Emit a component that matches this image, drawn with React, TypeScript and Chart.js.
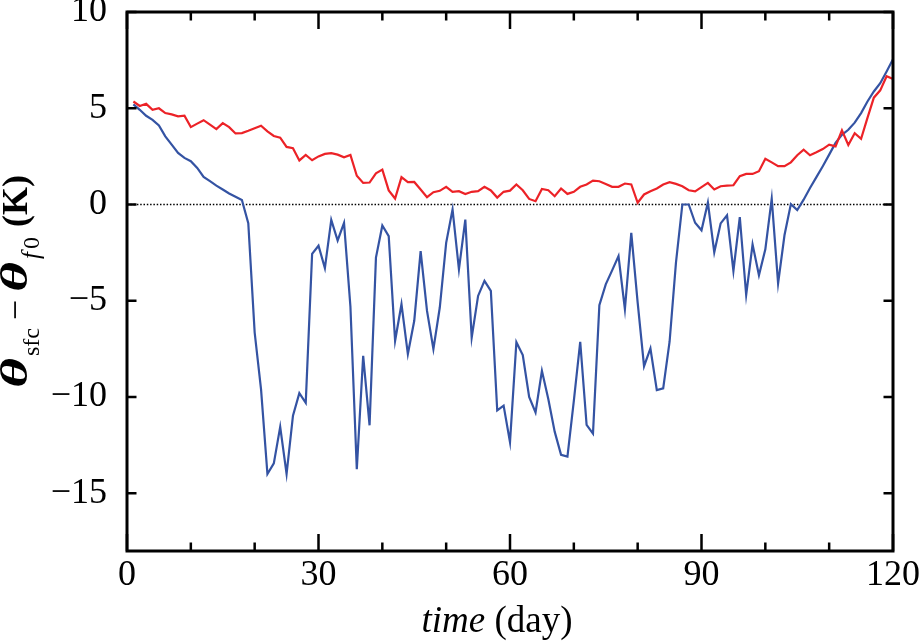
import React, { useEffect, useRef } from 'react';
import { Chart, registerables } from 'chart.js';

Chart.register(...registerables);

// ---- data ----
const days: number[] = Array.from({ length: 120 }, (_, i) => i + 1);

const redSeries: number[] = [
  5.35, 5.12, 5.23, 4.92, 5.0, 4.75, 4.68, 4.58, 4.61, 4.02,
  4.2, 4.38, 4.15, 3.92, 4.23, 4.02, 3.69, 3.71, 3.83, 3.96,
  4.09, 3.8, 3.56, 3.47, 2.99, 2.92, 2.29, 2.58, 2.3, 2.5,
  2.63, 2.67, 2.59, 2.45, 2.57, 1.49, 1.12, 1.14, 1.62, 1.81,
  0.73, 0.31, 1.42, 1.16, 1.17, 0.78, 0.38, 0.64, 0.71, 0.92,
  0.66, 0.69, 0.54, 0.66, 0.69, 0.92, 0.73, 0.36, 0.66, 0.72,
  1.04, 0.74, 0.29, 0.17, 0.81, 0.74, 0.43, 0.83, 0.55, 0.66,
  0.92, 1.04, 1.24, 1.21, 1.07, 0.92, 0.92, 1.09, 1.04, 0.09,
  0.52, 0.69, 0.83, 1.04, 1.16, 1.07, 0.95, 0.74, 0.68, 0.9,
  1.12, 0.78, 0.95, 0.98, 1.0, 1.47, 1.59, 1.59, 1.73, 2.38,
  2.19, 1.99, 1.99, 2.19, 2.56, 2.85, 2.56, 2.71, 2.88, 3.11,
  3.02, 3.85, 3.09, 3.7, 3.41, 4.5, 5.55, 5.93, 6.66, 6.52,
];

const blueSeries: number[] = [
  5.2, 4.92, 4.61, 4.4, 4.11, 3.54, 3.11, 2.68, 2.42, 2.25,
  1.9, 1.43, 1.21, 0.98, 0.78, 0.57, 0.4, 0.23, -0.97, -6.65,
  -9.6, -14.0, -13.45, -11.55, -14.0, -10.97, -9.8, -10.3, -2.56, -2.14,
  -3.3, -0.8, -1.87, -0.96, -5.3, -13.75, -7.86, -11.47, -2.76, -1.09,
  -1.64, -7.08, -5.18, -7.77, -6.04, -2.42, -5.53, -7.51, -5.35, -1.99,
  -0.26, -3.37, -0.78, -6.91, -4.75, -3.97, -4.49, -10.7, -10.45, -12.35,
  -7.15, -7.82, -10.0, -10.8, -8.64, -10.1, -11.8, -13.0, -13.1, -10.2,
  -7.13, -11.45, -11.9, -5.23, -4.15, -3.42, -2.68, -5.44, -1.47, -5.1,
  -8.4, -7.48, -9.64, -9.55, -7.13, -3.02, 0.0, 0.0, -0.95, -1.34,
  0.1, -2.48, -0.98, -0.56, -3.45, -0.65, -4.7, -2.07, -3.68, -2.33,
  0.3, -4.1, -1.6, 0.02, -0.29, 0.25, 0.86, 1.42, 1.99, 2.59,
  3.2, 3.62, 3.88, 4.25, 4.75, 5.35, 5.87, 6.3, 6.91, 7.55,
];

const referenceLine: number[] = [0, 0];
const referenceDays: number[] = [0, 120];

const xTickStep = 10;
const xLabelStep = 30;
const yTickStep = 5;
const xRange = [0, 120];
const yRange = [-18, 10];

const SERIF = '"Liberation Serif", "Times New Roman", Times, serif';

const fmt = (v: number) => (v < 0 ? '\u2212' + Math.abs(v) : String(v));

const frameTicks = {
  id: 'frameTicks',
  afterDatasetsDraw(chart: any) {
    const { ctx, chartArea: a, scales } = chart;
    const x = scales.x;
    const y = scales.y;
    ctx.save();
    ctx.strokeStyle = '#000';
    ctx.lineWidth = 2.5;
    ctx.beginPath();
    x.ticks.forEach((t: any) => {
      const px = x.getPixelForValue(t.value);
      const len = t.value % xLabelStep === 0 ? 17 : 8.5;
      ctx.moveTo(px, a.bottom);
      ctx.lineTo(px, a.bottom - len);
      ctx.moveTo(px, a.top);
      ctx.lineTo(px, a.top + len);
    });
    y.ticks.forEach((t: any) => {
      if (t.value % yTickStep !== 0) return;
      const py = y.getPixelForValue(t.value);
      ctx.moveTo(a.left, py);
      ctx.lineTo(a.left + 9.5, py);
      ctx.moveTo(a.right, py);
      ctx.lineTo(a.right - 9.5, py);
    });
    ctx.stroke();
    ctx.lineWidth = 3;
    ctx.strokeRect(a.left, a.top, a.right - a.left, a.bottom - a.top);
    ctx.restore();
  },
};

const titles = {
  id: 'titles',
  afterDraw(chart: any) {
    const { ctx, chartArea: a } = chart;
    ctx.save();
    ctx.fillStyle = '#000';
    ctx.textBaseline = 'alphabetic';
    ctx.textAlign = 'left';

    // x title
    const cx = (a.left + a.right) / 2 - 13;
    const by = a.bottom + 81;
    ctx.font = `italic 37px ${SERIF}`;
    const w1 = ctx.measureText('time').width;
    ctx.font = `37px ${SERIF}`;
    const w2 = ctx.measureText(' (day)').width;
    const sx = cx - (w1 + w2) / 2;
    ctx.font = `italic 37px ${SERIF}`;
    ctx.fillText('time', sx, by);
    ctx.font = `37px ${SERIF}`;
    ctx.fillText(' (day)', sx + w1, by);

    // y title (rotated)
    const cy = (a.top + a.bottom) / 2;
    ctx.translate(27, 0);
    ctx.rotate(-Math.PI / 2);
    const put = (text: string, font: string, u: number, v: number) => {
      ctx.font = font;
      ctx.fillText(text, u, v);
      return ctx.measureText(text).width;
    };
    const thetaFont = `italic bold 37px ${SERIF}`;
    const thetaW = 30;
    const putTheta = (u: number) => {
      ctx.font = thetaFont;
      const w = ctx.measureText('\u03B8').width;
      const k = thetaW / w;
      ctx.save();
      ctx.translate(u, 0);
      ctx.scale(k, 1);
      ctx.fillText('\u03B8', 0, 0);
      ctx.restore();
      return thetaW;
    };
    const subFont = `24px ${SERIF}`;
    const subItalic = `italic 25px ${SERIF}`;
    // theta_sfc
    let u = -(cy + 106.5);
    const wt1 = putTheta(u);
    put('sfc', subFont, u + wt1 + 2, 12);
    // minus
    ctx.font = `36px ${SERIF}`;
    const wm = ctx.measureText('\u2212').width;
    put('\u2212', `36px ${SERIF}`, -(cy + 28.5) - wm / 2, 0);
    // theta_f0
    u = -(cy + 10.5);
    const wt2 = putTheta(u);
    const wf = put('f', subItalic, u + wt2 + 3, 12);
    put('0', subFont, u + wt2 + 3 + wf + 3, 12);
    // (K)
    ctx.font = `bold 36px ${SERIF}`;
    const wk = ctx.measureText('(K)').width;
    put('(K)', `bold 36px ${SERIF}`, -(cy - 106.5) - wk, 0);

    ctx.restore();
  },
};

export default function App() {
  const ref = useRef<HTMLCanvasElement | null>(null);

  useEffect(() => {
    if (!ref.current) return;
    const chart = new Chart(ref.current, {
      type: 'line',
      data: {
        datasets: [
          {
            label: 'red',
            data: days.map((d, i) => ({ x: d, y: redSeries[i] })),
            borderColor: '#ec2227',
            borderWidth: 2.2,
            pointRadius: 0,
            fill: false,
          },
          {
            label: 'blue',
            data: days.map((d, i) => ({ x: d, y: blueSeries[i] })),
            borderColor: '#3453a3',
            borderWidth: 2.2,
            pointRadius: 0,
            fill: false,
          },
          {
            label: 'zero',
            data: referenceDays.map((d, i) => ({ x: d, y: referenceLine[i] })),
            borderColor: '#000',
            borderWidth: 1.5,
            borderDash: [1.5, 1.8],
            pointRadius: 0,
            fill: false,
          },
        ],
      },
      options: {
        responsive: false,
        animation: false,
        layout: { padding: { top: 12, right: 28, left: 0, bottom: 0 } },
        plugins: { legend: { display: false }, tooltip: { enabled: false } },
        elements: { line: { tension: 0 }, point: { radius: 0 } },
        scales: {
          x: {
            type: 'linear',
            min: xRange[0],
            max: xRange[1],
            grid: { display: false, drawTicks: false },
            border: { display: false },
            ticks: {
              stepSize: xTickStep,
              autoSkip: false,
              maxRotation: 0,
              padding: 3,
              color: '#000',
              font: { family: SERIF, size: 36 },
              callback: (v: any) => (Number(v) % xLabelStep === 0 ? fmt(Number(v)) : ''),
            },
            afterFit: (s: any) => {
              s.height = 92;
              s.paddingLeft = 0;
              s.paddingRight = 0;
            },
          },
          y: {
            type: 'linear',
            min: yRange[0],
            max: yRange[1],
            grid: { display: false, drawTicks: false },
            border: { display: false },
            ticks: {
              stepSize: yTickStep,
              includeBounds: false,
              padding: 20,
              color: '#000',
              font: { family: SERIF, size: 36 },
              callback: (v: any) => (Number(v) % yTickStep === 0 ? fmt(Number(v)) : ''),
            },
            afterFit: (s: any) => {
              s.width = 127;
              s.paddingTop = 0;
              s.paddingBottom = 0;
            },
          },
        },
      },
      plugins: [frameTicks, titles],
    } as any);
    return () => chart.destroy();
  }, []);

  return (
    <div style={{ position: 'fixed', left: 0, top: 0, width: 921, height: 643, background: '#fff' }}>
      <canvas ref={ref} width={921} height={643} style={{ display: 'block', width: 921, height: 643 }} />
    </div>
  );
}
